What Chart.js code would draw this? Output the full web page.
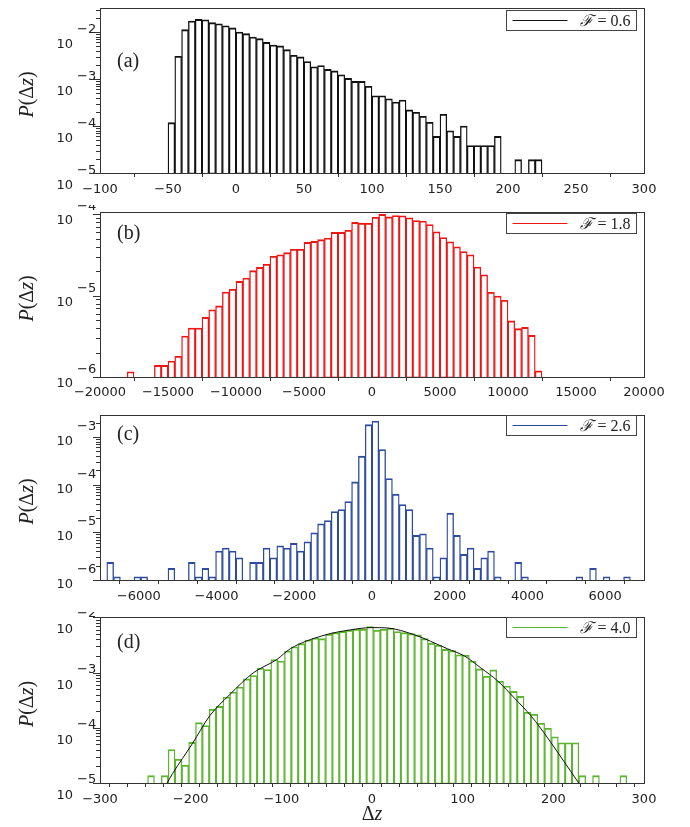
<!DOCTYPE html>
<html>
<head>
<meta charset="utf-8">
<title>P(Δz) histograms</title>
<script src="https://cdn.jsdelivr.net/npm/chart.js@4.4.1/dist/chart.umd.min.js"></script>
<style>
  html, body { margin: 0; padding: 0; background: #fff; }
  .panel { position: absolute; left: 0; }
</style>
</head>
<body>
<canvas id="chartA" class="panel" width="690" height="205" style="top:0px"></canvas>
<canvas id="chartB" class="panel" width="690" height="205" style="top:205px"></canvas>
<canvas id="chartC" class="panel" width="690" height="202" style="top:410px"></canvas>
<canvas id="chartD" class="panel" width="690" height="215" style="top:612px"></canvas>
<script>
// (a) F = 0.6 : bins of 5 starting at -50
const startA = -50, widthA = 5;
const probA = [
  1.18e-4, 3.05e-3, 1.12e-2, 1.71e-2, 1.85e-2, 1.82e-2, 1.58e-2, 1.5e-2, 1.36e-2, 1.22e-2,
  1.0e-2, 9.2e-3, 7.8e-3, 7.2e-3, 6.0e-3, 5.3e-3, 5.05e-3, 4.2e-3, 3.2e-3, 2.96e-3,
  2.36e-3, 1.82e-3, 1.94e-3, 1.6e-3, 1.49e-3, 1.23e-3, 1.03e-3, 8.9e-4, 8.9e-4, 7.0e-4,
  4.4e-4, 4.4e-4, 3.8e-4, 3.24e-4, 3.57e-4, 2.2e-4, 1.96e-4, 1.61e-4, 1.2e-4, 6.0e-5,
  1.78e-4, 7.9e-5, 6.0e-5, 1.0e-4, 3.85e-5, 3.85e-5, 3.85e-5, 3.85e-5, 6.0e-5, null,
  null, 1.92e-5, null, 1.92e-5, 1.92e-5
];

// (b) F = 1.8 : bins of 500 starting at -18000
const startB = -18000, widthB = 500;
const probB = [
  1.16e-6, null, null, null, 1.39e-6, 1.39e-6, 1.57e-6, 1.8e-6, 3.19e-6, 4.0e-6,
  4.0e-6, 5.4e-6, 6.7e-6, 7.5e-6, 1.11e-5, 1.2e-5, 1.5e-5, 1.65e-5, 2.03e-5, 2.23e-5,
  2.43e-5, 3.05e-5, 3.19e-5, 3.38e-5, 3.72e-5, 3.72e-5, 4.53e-5, 4.66e-5, 4.89e-5, 5.12e-5,
  6.0e-5, 6.0e-5, 6.4e-5, 7.97e-5, 7.8e-5, 7.8e-5, 9.2e-5, 1.0e-4, 9.3e-5, 9.7e-5,
  9.6e-5, 9.1e-5, 8.4e-5, 8.3e-5, 7.5e-5, 6.1e-5, 5.2e-5, 4.6e-5, 4.0e-5, 3.5e-5,
  3.19e-5, 2.25e-5, 1.81e-5, 1.1e-5, 9.9e-6, 8.8e-6, 4.9e-6, 3.93e-6, 4.08e-6, 3.25e-6,
  1.19e-6
];

// (c) F = 2.6 : bins of 175 starting at -6825
const startC = -6825, widthC = 175;
const probC = [
  2.34e-6, 1.17e-6, null, null, 1.17e-6, 1.17e-6, null, null, null, 1.75e-6,
  null, null, 2.34e-6, 1.17e-6, 1.75e-6, 1.17e-6, 4.04e-6, 4.67e-6, 4.04e-6, 2.93e-6,
  null, 2.34e-6, 2.34e-6, 4.67e-6, 2.93e-6, 5.22e-6, 4.67e-6, 5.85e-6, 4.04e-6, 6.34e-6,
  9.8e-6, 1.51e-5, 1.77e-5, 2.73e-5, 3.01e-5, 4.43e-5, 1.14e-4, 3.94e-4, 1.81e-3, 2.16e-3,
  5.43e-4, 1.34e-4, 6.3e-5, 3.83e-5, 3.01e-5, 8.6e-6, 9.3e-6, 4.67e-6, 1.17e-6, 2.93e-6,
  2.52e-5, 8.6e-6, 3.44e-6, 4.67e-6, 1.75e-6, 2.93e-6, 4.04e-6, 1.17e-6, null, null,
  2.34e-6, 1.17e-6, null, null, null, null, null, null, null, 1.17e-6,
  null, 1.75e-6, null, 1.17e-6, null, null, 1.17e-6
];

// (d) F = 4.0 : bins of 7.55 starting at -247.5, plus the fitted curve
const startD = -247.5, widthD = 7.55;
const probD = [
  1.36e-5, null, 1.36e-5, 4.05e-5, 2.7e-5, 2.1e-5, 5.45e-5, 1.24e-4, 1.1e-4, 2.18e-4,
  2.44e-4, 3.61e-4, 4.46e-4, 5.5e-4, 7.7e-4, 8.85e-4, 1.2e-3, 1.14e-3, 1.73e-3, 1.62e-3,
  2.46e-3, 2.95e-3, 3.35e-3, 3.9e-3, 4.25e-3, 4.14e-3, 4.97e-3, 5.3e-3, 5.6e-3, 5.87e-3,
  6.12e-3, 6.12e-3, 6.85e-3, 5.87e-3, 6.12e-3, 6.4e-3, 5.55e-3, 5.3e-3, 5.1e-3, 4.83e-3,
  4.14e-3, 3.4e-3, 3.13e-3, 2.64e-3, 2.5e-3, 2.11e-3, 2.08e-3, 1.62e-3, 1.17e-3, 8.6e-4,
  1.12e-3, 6.98e-4, 5.73e-4, 4.58e-4, 3.71e-4, 1.92e-4, 1.77e-4, 1.21e-4, 9.8e-5, 6.9e-5,
  5.37e-5, 5.37e-5, 5.37e-5, 1.36e-5, null, 1.36e-5, null, null, null, 1.36e-5
];
const curveX = [-226, -220, -198, -179, -157, -131, -105, -90, -54, -24, 0, 17, 46, 83, 102, 120, 139, 157, 176, 194, 212, 228];
const curveY = [1.0e-5, 1.48e-5, 5.2e-5, 1.65e-4, 3.98e-4, 9.9e-4, 1.73e-3, 2.72e-3, 4.7e-3, 5.96e-3, 6.55e-3, 6.45e-3, 4.9e-3, 2.72e-3, 2.0e-3, 1.22e-3, 6.98e-4, 3.47e-4, 1.6e-4, 6.46e-5, 2.42e-5, 1.0e-5];

const AXIS = '#333';
const TICK_FONT = '13px "DejaVu Sans", sans-serif';
const SERIF = '"Liberation Serif", "DejaVu Serif", serif';

function histPoints(start, width, values) {
  const pts = [];
  values.forEach((v, i) => {
    if (v != null) pts.push({ x: start + width * (i + 0.5), y: v });
  });
  return pts;
}

// draws [text, italic] pieces one after another, centred on x
function drawMath(ctx, parts, x, y, size) {
  const fonts = parts.map(p => (p[1] ? 'italic ' : '') + size + 'px ' + SERIF);
  let total = 0;
  parts.forEach((p, i) => { ctx.font = fonts[i]; total += ctx.measureText(p[0]).width; });
  let cx = x - total / 2;
  ctx.textAlign = 'left';
  parts.forEach((p, i) => {
    ctx.font = fonts[i];
    ctx.fillText(p[0], cx, y);
    cx += ctx.measureText(p[0]).width;
  });
}

const decorations = {
  id: 'decorations',
  afterDraw(chart, args, o) {
    const { ctx, chartArea: a } = chart;
    const ys = chart.scales.y;
    ctx.save();
    ctx.strokeStyle = AXIS;
    ctx.lineWidth = 1;
    ctx.strokeRect(Math.round(a.left) + 0.5, Math.round(a.top) + 0.5,
      Math.round(a.right - a.left), Math.round(a.bottom - a.top));

    // log ticks with 10^n labels
    ctx.fillStyle = '#222';
    ctx.textBaseline = 'middle';
    const lo = Math.floor(Math.log10(ys.min)), hi = Math.floor(Math.log10(ys.max));
    for (let e = lo; e <= hi; e++) {
      for (let m = 1; m <= 9; m++) {
        const v = m * Math.pow(10, e);
        if (v < ys.min * 0.999 || v > ys.max * 1.001) continue;
        const py = Math.round(ys.getPixelForValue(v)) + 0.5;
        const len = m === 1 ? 7 : 4;
        ctx.beginPath();
        ctx.moveTo(a.left - len, py);
        ctx.lineTo(a.left, py);
        ctx.stroke();
        if (m === 1) {
          ctx.font = TICK_FONT;
          ctx.textAlign = 'right';
          ctx.fillText('10', 73, py + o.tenDy);
          ctx.textAlign = 'left';
          ctx.fillText('\u2212' + Math.abs(e), 77, py + o.expDy);
        }
      }
    }

    // panel tag
    ctx.font = '20px ' + SERIF;
    ctx.textAlign = 'left';
    ctx.fillStyle = '#222';
    ctx.fillText(o.tag, 117, a.top + o.tagDy);

    // y title
    ctx.save();
    ctx.translate(28, (a.top + a.bottom) / 2 + 4);
    ctx.rotate(-Math.PI / 2);
    drawMath(ctx, [['P', true], ['(\u0394', false], ['z', true], [')', false]], 0, 0, 20);
    ctx.restore();

    if (o.xTitle) {
      drawMath(ctx, [['\u0394', false], ['z', true]], (a.left + a.right) / 2, o.xTitleY, 20);
    }

    // legend box
    const ds = chart.data.datasets[0];
    const bw = 130, bh = 20;
    const bx = Math.round(a.right) - 8 - bw + 0.5, by = Math.round(a.top) + o.legDy + 0.5;
    ctx.fillStyle = '#fff';
    ctx.fillRect(bx, by, bw, bh);
    ctx.strokeStyle = '#444';
    ctx.strokeRect(bx, by, bw, bh);
    ctx.strokeStyle = ds.borderColor;
    ctx.beginPath();
    ctx.moveTo(bx + 6, by + bh / 2);
    ctx.lineTo(bx + 61, by + bh / 2);
    ctx.stroke();
    ctx.fillStyle = '#222';
    drawMath(ctx, [['\u2131', true], [' = ' + ds.label, false]], bx + 99, by + bh / 2 + 1, 16);
    ctx.restore();
  }
};

function makePanel(id, p) {
  const datasets = [{
    type: 'bar',
    label: p.label,
    data: p.points,
    borderColor: p.color,
    backgroundColor: 'rgba(255,255,255,0)',
    borderWidth: { top: 1.2, left: 0.7, right: 0.7, bottom: 0 },
    barPercentage: 1,
    categoryPercentage: 1,
    order: 1
  }].concat(p.extra || []);

  return new Chart(document.getElementById(id), {
    type: 'bar',
    data: { datasets },
    options: {
      responsive: false,
      animation: false,
      events: [],
      layout: { padding: { top: p.padTop, right: 46, bottom: 0, left: 0 } },
      scales: {
        x: {
          type: 'linear',
          offset: false,
          min: p.xMin, max: p.xMax,
          afterFit: s => { s.height = p.xHeight; },
          border: { display: false },
          grid: { drawOnChartArea: false, drawTicks: true, tickLength: 4, color: AXIS },
          ticks: {
            stepSize: p.xStep,
            autoSkip: false,
            maxRotation: 0,
            padding: p.labelPad,
            color: '#222',
            font: { family: '"DejaVu Sans", sans-serif', size: 13 },
            callback: v => {
              if (Math.abs(v % p.labelEvery) > 1e-6) return '';
              return v < 0 ? '\u2212' + Math.abs(v) : String(v);
            }
          }
        },
        y: {
          type: 'logarithmic',
          min: p.yMin, max: p.yMax,
          afterFit: s => { s.width = 100; },
          border: { display: false },
          grid: { display: false },
          ticks: { display: false, autoSkip: false }
        }
      },
      plugins: {
        legend: { display: false },
        tooltip: { enabled: false },
        decorations: p.deco
      }
    },
    plugins: [decorations]
  });
}

makePanel('chartA', {
  points: histPoints(startA, widthA, probA), color: '#111', label: '0.6',
  xMin: -100, xMax: 300, xStep: 50, labelEvery: 50,
  yMin: 1e-5, yMax: 3.24e-2, padTop: 8, xHeight: 32, labelPad: 5,
  deco: { tag: '(a)', tagDy: 54, tenDy: 12, expDy: -3, legDy: 2 }
});

makePanel('chartB', {
  points: histPoints(startB, widthB, probB), color: '#ee1515', label: '1.8',
  xMin: -20000, xMax: 20000, xStep: 5000, labelEvery: 5000,
  yMin: 1e-6, yMax: 1.07e-4, padTop: 7, xHeight: 33, labelPad: 4,
  deco: { tag: '(b)', tagDy: 22, tenDy: 6, expDy: -8, legDy: 1 }
});

makePanel('chartC', {
  points: histPoints(startC, widthC, probC), color: '#2d4c9e', label: '2.6',
  xMin: -7000, xMax: 7000, xStep: 1000, labelEvery: 2000,
  yMin: 1e-6, yMax: 2.88e-3, padTop: 5, xHeight: 32, labelPad: 5,
  deco: { tag: '(c)', tagDy: 20, tenDy: 4, expDy: -11, legDy: 0 }
});

makePanel('chartD', {
  points: histPoints(startD, widthD, probD), color: '#5cb52e', label: '4.0',
  xMin: -300, xMax: 300, xStep: 20, labelEvery: 100,
  yMin: 1e-5, yMax: 1.02e-2, padTop: 5, xHeight: 44, labelPad: 5,
  extra: [{
    type: 'line',
    label: 'fit',
    data: curveX.map((x, i) => ({ x, y: curveY[i] })),
    borderColor: '#111',
    borderWidth: 1,
    pointRadius: 0,
    cubicInterpolationMode: 'monotone',
    order: 0
  }],
  deco: { tag: '(d)', tagDy: 26, tenDy: 12, expDy: -4, legDy: 0, xTitle: true, xTitleY: 203 }
});
</script>
</body>
</html>
